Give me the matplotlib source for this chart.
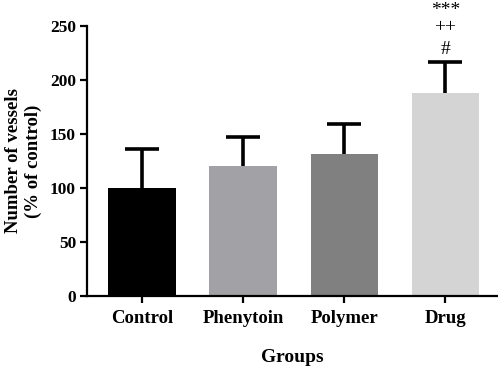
import matplotlib
matplotlib.use("Agg")
import matplotlib.pyplot as plt

groups = ["Control", "Phenytoin", "Polymer", "Drug"]
means = [100, 120.5, 131, 188]
errors = [36, 26.5, 28.5, 29]
colors = ["#000000", "#a2a2a6", "#808080", "#d4d4d4"]
sig_labels = ["***", "++", "#"]

plt.rcParams["font.family"] = ["Liberation Serif", "DejaVu Serif"]

fig = plt.figure(figsize=(4.98, 3.70), dpi=100)
ax = fig.add_axes([0.175, 0.2, 0.823, 0.73])

x = list(range(len(groups)))
ax.bar(x, means, width=0.67, color=colors, zorder=2)
eb = ax.errorbar(x, means, yerr=[[0]*len(errors), errors], fmt="none",
                 ecolor="black", elinewidth=2.6, capsize=12, capthick=2.6, zorder=1)
eb[1][0].remove()

ax.set_xlim(-0.545, 3.51)
ax.set_ylim(0, 250)
ax.set_yticks([0, 50, 100, 150, 200, 250])
ax.set_xticks(x)
ax.set_xticklabels(groups, fontsize=13.5, fontweight="bold")
for lab in ax.get_yticklabels():
    lab.set_fontsize(12.5)
    lab.set_fontweight("bold")

for s in ["top", "right"]:
    ax.spines[s].set_visible(False)
for s in ["left", "bottom"]:
    ax.spines[s].set_linewidth(1.6)
ax.tick_params(axis="both", direction="out", length=5, width=1.6)
ax.tick_params(axis="x", pad=5)
ax.tick_params(axis="y", pad=3)

ax.set_ylabel("Number of vessels\n(% of control)", fontsize=13.5, fontweight="bold",
              labelpad=6, linespacing=1.15)
ax.set_xlabel("Groups", fontsize=14, fontweight="bold", labelpad=16)

top = means[3] + errors[3]
ax.text(3, top + 47, sig_labels[0], ha="center", va="center", fontsize=14, clip_on=False)
ax.text(3, top + 31, sig_labels[1], ha="center", va="center", fontsize=14, clip_on=False)
ax.text(3, top + 11, sig_labels[2], ha="center", va="center", fontsize=14, clip_on=False)

fig.savefig("out.png", dpi=100)
